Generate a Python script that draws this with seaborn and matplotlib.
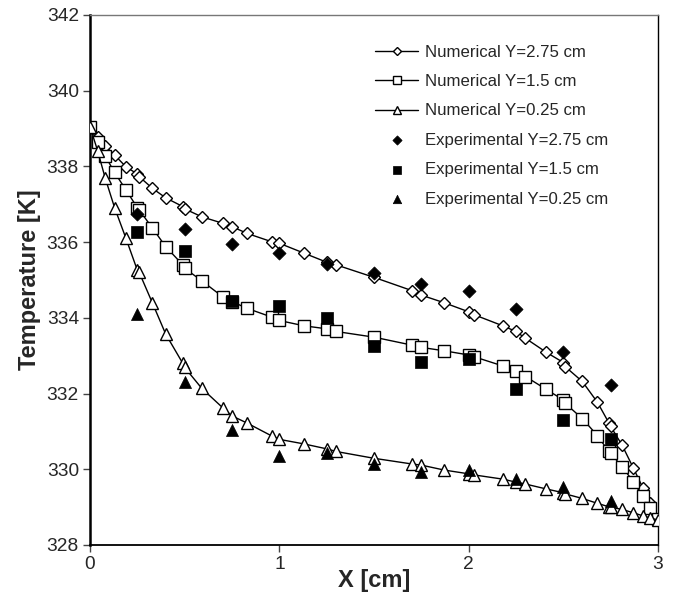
import matplotlib
matplotlib.use("Agg")
import matplotlib.pyplot as plt
import seaborn as sns
import pandas as pd

sns.set_style("ticks")
plt.rcParams["font.family"] = ["Liberation Sans", "DejaVu Sans"]

# Numerical solution: common x grid (cm) and temperatures (K) at three heights
x_num = [0.00, 0.04, 0.08, 0.13, 0.19, 0.25, 0.26, 0.33, 0.40, 0.49, 0.50, 0.59,
         0.70, 0.75, 0.83, 0.96, 1.00, 1.13, 1.25, 1.30, 1.50, 1.70, 1.75, 1.87,
         2.00, 2.03, 2.18, 2.25, 2.30, 2.41, 2.50, 2.51, 2.60, 2.68, 2.74, 2.75,
         2.81, 2.87, 2.92, 2.96, 3.00]
num_y275 = [339.05, 338.79, 338.54, 338.30, 337.99, 337.80, 337.73, 337.42, 337.17,
            336.94, 336.88, 336.67, 336.50, 336.41, 336.23, 336.01, 335.97, 335.71,
            335.47, 335.40, 335.07, 334.72, 334.60, 334.40, 334.16, 334.08, 333.79,
            333.64, 333.46, 333.09, 332.82, 332.71, 332.32, 331.77, 331.23, 331.13,
            330.64, 330.03, 329.51, 329.10, 328.68]
num_y150 = [339.05, 338.65, 338.28, 337.84, 337.38, 336.91, 336.85, 336.37, 335.88,
            335.40, 335.31, 334.98, 334.56, 334.43, 334.25, 334.02, 333.93, 333.79,
            333.71, 333.64, 333.49, 333.28, 333.22, 333.13, 333.02, 332.97, 332.73,
            332.60, 332.45, 332.11, 331.83, 331.74, 331.34, 330.89, 330.47, 330.42,
            330.07, 329.67, 329.30, 328.97, 328.68]
num_y025 = [339.05, 338.42, 337.70, 336.91, 336.10, 335.26, 335.20, 334.39, 333.57,
            332.80, 332.69, 332.14, 331.63, 331.41, 331.22, 330.88, 330.79, 330.67,
            330.54, 330.47, 330.29, 330.14, 330.11, 329.98, 329.88, 329.85, 329.74,
            329.66, 329.61, 329.48, 329.38, 329.35, 329.23, 329.10, 329.01, 329.00,
            328.94, 328.85, 328.77, 328.71, 328.66]

# Experimental measurements
x_exp = [0.25, 0.50, 0.75, 1.00, 1.25, 1.50, 1.75, 2.00, 2.25, 2.50, 2.75]
exp_y275 = [336.74, 336.36, 335.96, 335.72, 335.42, 335.18, 334.90, 334.72, 334.23, 333.11, 332.23]
exp_y150 = [336.26, 335.77, 334.45, 334.32, 333.99, 333.26, 332.84, 332.91, 332.11, 331.30, 330.80]
exp_y025 = [334.09, 332.31, 331.04, 330.35, 330.42, 330.13, 329.94, 329.98, 329.74, 329.53, 329.17]

x_ticks = [0, 1, 2, 3]
y_ticks = [328, 330, 332, 334, 336, 338, 340, 342]

fig = plt.figure(figsize=(6.76, 6.02), dpi=100)
ax = fig.add_axes([0.1331, 0.0947, 0.9734 - 0.1331, 0.9751 - 0.0947])

numerical = [
    ("Numerical Y=2.75 cm", num_y275, "D", 6.5),
    ("Numerical Y=1.5 cm", num_y150, "s", 8.5),
    ("Numerical Y=0.25 cm", num_y025, "^", 9),
]
for label, ys, mk, ms in numerical:
    df = pd.DataFrame({"x": x_num, "T": ys})
    sns.lineplot(data=df, x="x", y="T", ax=ax, estimator=None, sort=False,
                 color="black", linewidth=1.0, marker=mk, markersize=ms,
                 markerfacecolor="white", markeredgecolor="black",
                 markeredgewidth=1.0, label=label, zorder=3)

experimental = [
    ("Experimental Y=2.75 cm", exp_y275, "D", 45),
    ("Experimental Y=1.5 cm", exp_y150, "s", 70),
    ("Experimental Y=0.25 cm", exp_y025, "^", 75),
]
for label, ys, mk, s in experimental:
    df = pd.DataFrame({"x": x_exp, "T": ys})
    sns.scatterplot(data=df, x="x", y="T", ax=ax, marker=mk, s=s,
                    color="black", edgecolor="black", linewidth=0.5,
                    label=label, zorder=4)

ax.set_xlim(0, 3)
ax.set_ylim(328, 342)
ax.set_xticks(x_ticks)
ax.set_yticks(y_ticks)
ax.tick_params(axis="both", direction="out", length=5, width=1, labelsize=13.8,
               color="#444444", pad=3)

ax.set_xlabel("X [cm]", fontsize=17, fontweight="bold", labelpad=-3)
ax.set_ylabel("Temperature [K]", fontsize=17, fontweight="bold", labelpad=4)

ax.spines["left"].set_linewidth(1.8)
ax.spines["bottom"].set_linewidth(1.3)
ax.spines["right"].set_linewidth(1.0)
ax.spines["top"].set_linewidth(1.0)
ax.spines["top"].set_color("#777777")
for side in ("left", "bottom", "right"):
    ax.spines[side].set_color("black")

leg = ax.legend(loc="upper left", bbox_to_anchor=(0.49, 0.957), frameon=False,
                fontsize=12.1, handlelength=2.56, handletextpad=0.42,
                labelspacing=0.86, markerscale=0.7, borderaxespad=0)

fig.savefig("out.png", dpi=100)
